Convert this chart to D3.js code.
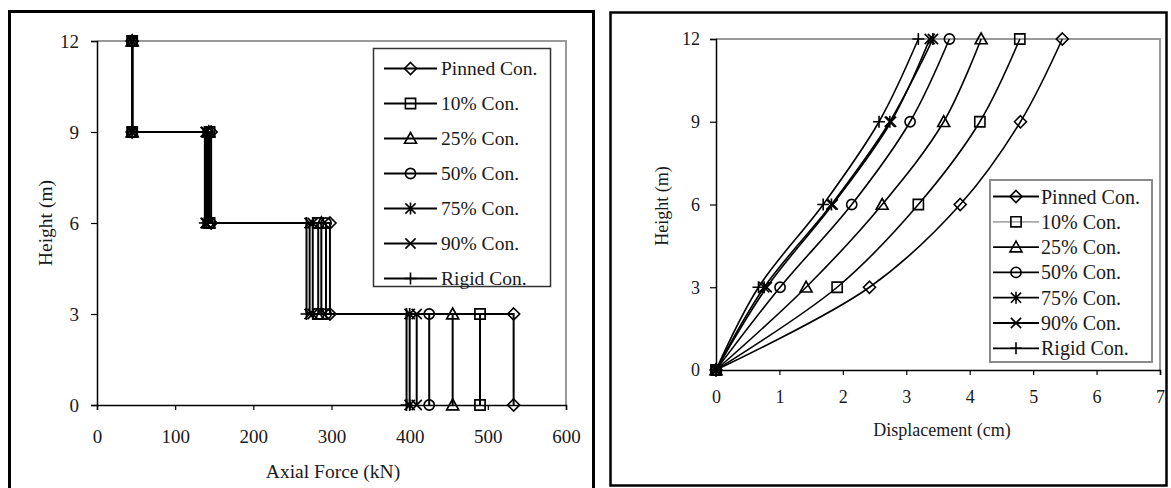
<!DOCTYPE html>
<html><head><meta charset="utf-8">
<script src="https://cdn.jsdelivr.net/npm/d3@7"></script>
<style>
html,body{margin:0;padding:0;background:#fff;}
svg{display:block;}
text{font-family:"Liberation Serif","Times New Roman",serif;fill:#1a1a1a;}
</style></head>
<body>
<svg id="c" width="1171" height="488"></svg>
<script>
// ---------------- DATA ----------------
const seriesNames = ["Pinned Con.","10% Con.","25% Con.","50% Con.","75% Con.","90% Con.","Rigid Con."];
const markerTypes = ["diamond","square","triangle","circle","asterisk","cross","plus"];
const heights = [0, 3, 6, 9, 12];

// Axial force (kN) per storey: [0-3 m, 3-6 m, 6-9 m, 9-12 m]
const axialPinned = [533, 298, 146, 45];
const axial10     = [490, 283, 144, 45];
const axial25     = [455, 287, 143, 45];
const axial50     = [425, 293, 142, 45];
const axial75     = [400, 276, 140, 45];
const axial90     = [409, 272, 139, 45];
const axialRigid  = [396, 268, 138, 45];

// Displacement (cm) at heights 0,3,6,9,12 m
const dispPinned = [0, 2.42, 3.85, 4.80, 5.46];
const disp10     = [0, 1.91, 3.19, 4.16, 4.79];
const disp25     = [0, 1.42, 2.62, 3.59, 4.18];
const disp50     = [0, 1.01, 2.14, 3.06, 3.68];
const disp75     = [0, 0.76, 1.82, 2.74, 3.42];
const disp90     = [0, 0.80, 1.84, 2.76, 3.37];
const dispRigid  = [0, 0.67, 1.69, 2.57, 3.19];

const xTicksLeft  = [0, 100, 200, 300, 400, 500, 600];
const xTicksRight = [0, 1, 2, 3, 4, 5, 6, 7];
const yTicks      = [0, 3, 6, 9, 12];

const axialSeries = [axialPinned, axial10, axial25, axial50, axial75, axial90, axialRigid];
const dispSeries  = [dispPinned, disp10, disp25, disp50, disp75, disp90, dispRigid];

// ---------------- HELPERS ----------------
function markerPath(type, r) {
  const s = r * 0.85;
  switch (type) {
    case "diamond": return `M0,${-r}L${r},0L0,${r}L${-r},0Z`;
    case "square": return `M${-s},${-s}H${s}V${s}H${-s}Z`;
    case "triangle": return `M0,${-r}L${r},${r*0.8}L${-r},${r*0.8}Z`;
    case "circle": return `M${-s},0A${s},${s} 0 1 0 ${s},0A${s},${s} 0 1 0 ${-s},0Z`;
    case "cross": return `M${-s},${-s}L${s},${s}M${s},${-s}L${-s},${s}`;
    case "asterisk": return `M${-s},${-s}L${s},${s}M${s},${-s}L${-s},${s}M0,${-r}L0,${r}`;
    case "plus": return `M0,${-r}L0,${r}M${-r},0L${r},0`;
  }
}

const svg = d3.select("#c");

// outer frames
svg.append("rect").attr("x", 9.5).attr("y", 11.5).attr("width", 584).attr("height", 500)
  .attr("fill", "none").attr("stroke", "#000").attr("stroke-width", 3);
svg.append("rect").attr("x", 610.5).attr("y", 12.5).attr("width", 556).attr("height", 473)
  .attr("fill", "none").attr("stroke", "#000").attr("stroke-width", 2.5);

function drawAxes(g, x, y, xTicks, opt) {
  const [x0, x1] = x.range();
  const [y0, y1] = y.range();
  // gray top/right plot border
  g.append("path").attr("d", `M${x0},${y1}H${x1}V${y0}`)
    .attr("fill", "none").attr("stroke", "#9a9a9a").attr("stroke-width", 2);
  // x axis
  const xa = g.append("g").attr("transform", `translate(0,${y0})`)
    .call(d3.axisBottom(x).tickValues(xTicks).tickSize(5).tickPadding(opt.xPad).tickFormat(d3.format("d")));
  xa.select(".domain").attr("stroke", "#000").attr("stroke-width", 1.5);
  xa.selectAll(".tick line").attr("stroke", "#000").attr("stroke-width", 1.2);
  xa.selectAll("text").style("font-size", opt.tickFont + "px").style("font-family", '"Liberation Serif",serif').attr("fill", "#2a2a2a");
  // y axis
  const ya = g.append("g").attr("transform", `translate(${x0},0)`)
    .call(d3.axisLeft(y).tickValues(yTicks).tickSize(6).tickPadding(opt.yPad).tickFormat(d3.format("d")));
  ya.select(".domain").attr("stroke", "#000").attr("stroke-width", 1.5);
  ya.selectAll(".tick line").attr("stroke", "#000").attr("stroke-width", 1.2);
  ya.selectAll("text").style("font-size", opt.tickFont + "px").style("font-family", '"Liberation Serif",serif').attr("fill", "#2a2a2a");
}

function drawMarkers(g, pts, type, r, sw) {
  g.selectAll(null).data(pts).enter().append("path")
    .attr("transform", d => `translate(${d[0]},${d[1]})`)
    .attr("d", markerPath(type, r))
    .attr("fill", "none").attr("stroke", "#000").attr("stroke-width", sw);
}

function drawLegend(g, x0, y0, w, h, rowY, lineX0, lineX1, textX, font, border, lineColors) {
  g.append("rect").attr("x", x0).attr("y", y0).attr("width", w).attr("height", h)
    .attr("fill", "#fff").attr("stroke", border.color).attr("stroke-width", border.width);
  seriesNames.forEach((name, i) => {
    const yy = rowY(i);
    g.append("line").attr("x1", lineX0).attr("x2", lineX1).attr("y1", yy).attr("y2", yy)
      .attr("stroke", lineColors[i]).attr("stroke-width", 1.8);
    g.append("path").attr("transform", `translate(${(lineX0 + lineX1) / 2},${yy})`)
      .attr("d", markerPath(markerTypes[i], 6)).attr("fill", "none").attr("stroke", "#000").attr("stroke-width", 1.6);
    g.append("text").attr("x", textX).attr("y", yy).attr("dy", "0.35em")
      .style("font-size", font + "px").text(name);
  });
}

// ---------------- LEFT CHART ----------------
{
  const g = svg.append("g");
  const x = d3.scaleLinear().domain([0, 600]).range([97, 566]);
  const y = d3.scaleLinear().domain([0, 12]).range([405, 41]);
  drawAxes(g, x, y, xTicksLeft, { tickFont: 19, xPad: 20, yPad: 12 });

  const line = d3.line().x(d => x(d[0])).y(d => y(d[1]));
  axialSeries.forEach((vals, si) => {
    // build step profile from storey forces, top to bottom
    const pts = [];
    for (let k = vals.length - 1; k >= 0; k--) {
      pts.push([vals[k], heights[k + 1]]);
      pts.push([vals[k], heights[k]]);
    }
    g.append("path").attr("d", line(pts)).attr("fill", "none")
      .attr("stroke", "#000").attr("stroke-width", 2);
    drawMarkers(g, pts.map(p => [x(p[0]), y(p[1])]), markerTypes[si], 6, 1.7);
  });

  g.append("text").attr("x", 333).attr("y", 471).attr("dy", "0.35em").attr("text-anchor", "middle")
    .style("font-size", "19.5px").text("Axial Force (kN)");
  g.append("text").attr("transform", "translate(45,223) rotate(-90)").attr("dy", "0.35em").attr("text-anchor", "middle")
    .style("font-size", "19.5px").text("Height (m)");

  drawLegend(g, 373.5, 48.5, 177, 238, i => 68.5 + i * 35, 384, 437, 441, 19.5,
    { color: "#333", width: 1.5 }, seriesNames.map(() => "#000"));
}

// ---------------- RIGHT CHART ----------------
{
  const g = svg.append("g");
  const x = d3.scaleLinear().domain([0, 7]).range([716, 1160]);
  const y = d3.scaleLinear().domain([0, 12]).range([370, 39]);
  drawAxes(g, x, y, xTicksRight, { tickFont: 18, xPad: 15, yPad: 10 });

  const line = d3.line().x(d => x(d[0])).y(d => y(d[1])).curve(d3.curveCatmullRom.alpha(0.5));
  dispSeries.forEach((vals, si) => {
    const pts = vals.map((v, k) => [v, heights[k]]);
    g.append("path").attr("d", line(pts)).attr("fill", "none")
      .attr("stroke", "#000").attr("stroke-width", 1.6);
    drawMarkers(g, pts.map(p => [x(p[0]), y(p[1])]), markerTypes[si], 6, 1.6);
  });

  g.append("text").attr("x", 942).attr("y", 430).attr("dy", "0.35em").attr("text-anchor", "middle")
    .style("font-size", "18px").text("Displacement (cm)");
  g.append("text").attr("transform", "translate(662,206) rotate(-90)").attr("dy", "0.35em").attr("text-anchor", "middle")
    .style("font-size", "18px").text("Height (m)");

  drawLegend(g, 990, 180, 162, 182, i => 196.5 + i * 25.3, 993, 1039, 1041, 20,
    { color: "#8a8a8a", width: 2 }, seriesNames.map((n, i) => i === 1 ? "#aaa" : "#000"));
}
</script>
</body></html>
